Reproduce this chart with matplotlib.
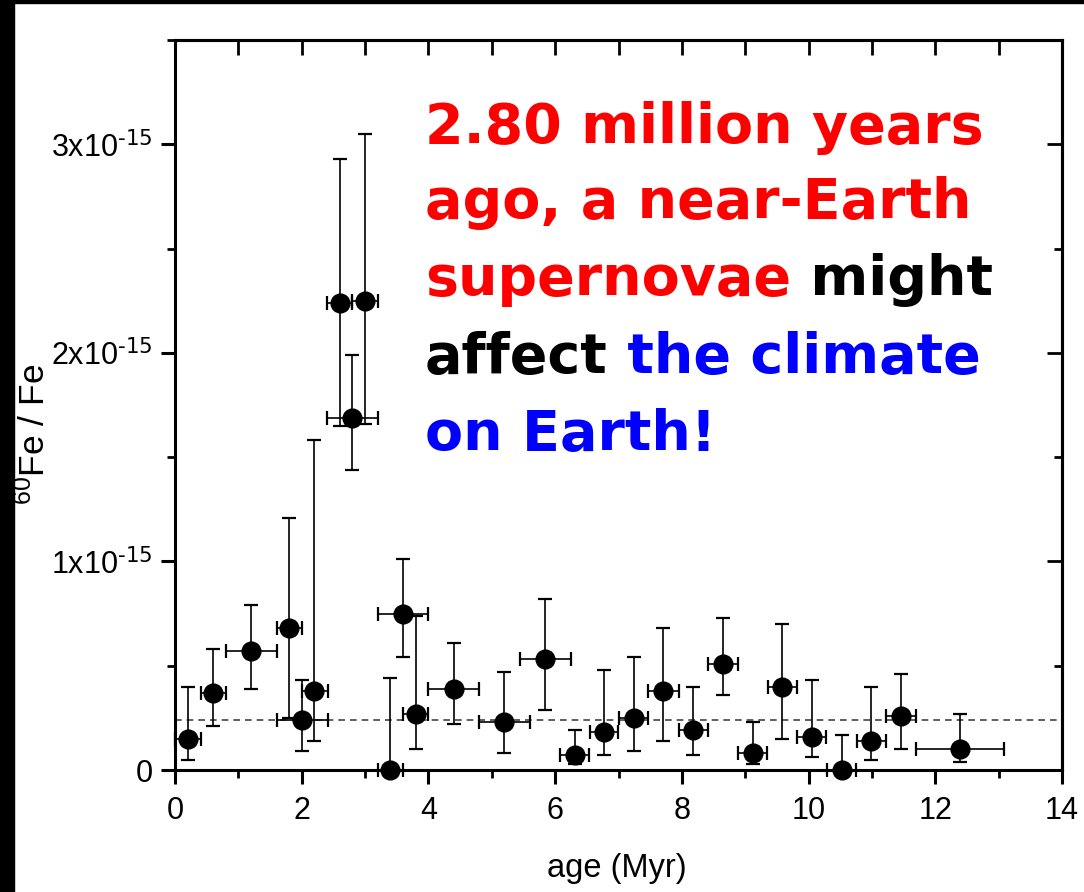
import numpy as np
import matplotlib
matplotlib.use("Agg")
import matplotlib.pyplot as plt
from matplotlib.patches import Rectangle
from matplotlib.ticker import MultipleLocator, FixedLocator

plt.rcParams['font.family'] = ['Liberation Sans', 'DejaVu Sans']
plt.rcParams['mathtext.default'] = 'regular'

# 60Fe/Fe ratio vs sample age, ratio in units of 1e-15
age = np.array([0.2, 0.6, 1.2, 1.8, 2.0, 2.2, 2.6, 3.0, 2.8, 3.4, 3.6, 3.8, 4.4, 5.2,
                5.84, 6.31, 6.77, 7.24, 7.70, 8.17, 8.65, 9.12, 9.58, 10.05, 10.53,
                10.98, 11.46, 12.39])
age_lo = np.array([0.0, 0.41, 0.80, 1.61, 1.61, 2.0, 2.4, 2.8, 2.4, 3.2, 3.2, 3.6, 4.0, 4.8,
                   5.45, 6.08, 6.55, 7.0, 7.47, 7.95, 8.41, 8.89, 9.36, 9.82, 10.29,
                   10.76, 11.22, 11.69])
age_hi = np.array([0.41, 0.80, 1.61, 2.0, 2.41, 2.41, 2.8, 3.2, 3.2, 3.6, 4.0, 4.0, 4.8, 5.6,
                   6.25, 6.53, 6.99, 7.47, 7.95, 8.41, 8.89, 9.34, 9.82, 10.27, 10.75,
                   11.22, 11.69, 13.08])
ratio = np.array([0.15, 0.37, 0.57, 0.68, 0.24, 0.38, 2.24, 2.25, 1.69, 0.0, 0.75, 0.27,
                  0.39, 0.23, 0.53, 0.07, 0.18, 0.25, 0.38, 0.19, 0.51, 0.08, 0.40, 0.16,
                  0.0, 0.14, 0.26, 0.10])
ratio_lo = np.array([0.05, 0.21, 0.39, 0.25, 0.09, 0.14, 1.65, 1.66, 1.44, 0.0, 0.54, 0.10,
                     0.22, 0.08, 0.29, 0.03, 0.07, 0.09, 0.14, 0.07, 0.36, 0.03, 0.15, 0.06,
                     0.0, 0.05, 0.10, 0.04])
ratio_hi = np.array([0.40, 0.58, 0.79, 1.21, 0.43, 1.58, 2.93, 3.05, 1.99, 0.44, 1.01, 0.74,
                     0.61, 0.47, 0.82, 0.19, 0.48, 0.54, 0.68, 0.40, 0.73, 0.23, 0.70, 0.43,
                     0.17, 0.40, 0.46, 0.27])
background = 0.24

ytick_vals = [0, 1, 2, 3]
ytick_labels = ['0', r'1x10$^{\text{-15}}$', r'2x10$^{\text{-15}}$', r'3x10$^{\text{-15}}$']
xtick_vals = [0, 2, 4, 6, 8, 10, 12, 14]

fig = plt.figure(figsize=(10.84, 8.92), dpi=100)
ax = fig.add_axes([175 / 1084, 1 - 770 / 892, (1062 - 175) / 1084, (770 - 40) / 892])

ax.axhline(background, color='#444444', lw=1.2, ls=(0, (4, 3)), zorder=1)
ax.errorbar(age, ratio,
            xerr=[age - age_lo, age_hi - age],
            yerr=[ratio - ratio_lo, ratio_hi - ratio],
            fmt='o', color='black', ms=13.5, ecolor='black', elinewidth=1.2,
            capsize=5, capthick=1.6, zorder=3, clip_on=False)

ax.set_xlim(0, 14)
ax.set_ylim(0, 3.5)
ax.xaxis.set_major_locator(FixedLocator(xtick_vals))
ax.xaxis.set_minor_locator(MultipleLocator(1))
ax.yaxis.set_major_locator(FixedLocator(ytick_vals))
ax.yaxis.set_minor_locator(MultipleLocator(0.5))
ax.set_yticklabels(ytick_labels)
ax.set_xticklabels([str(v) for v in xtick_vals])

for s in ax.spines.values():
    s.set_linewidth(2.2)
ax.tick_params(which='major', direction='out', length=10, width=2.2, labelsize=22)
ax.tick_params(which='minor', direction='out', length=6, width=2.0)
ax.tick_params(axis='x', which='major', pad=9)
ax.tick_params(axis='y', which='major', pad=6)

# inward ticks on the top and right edges
top = ax.secondary_xaxis('top')
top.xaxis.set_major_locator(FixedLocator(xtick_vals))
top.xaxis.set_minor_locator(MultipleLocator(1))
top.tick_params(which='both', direction='in', length=11, width=2.0, labeltop=False)
right = ax.secondary_yaxis('right')
right.yaxis.set_major_locator(FixedLocator(ytick_vals))
right.yaxis.set_minor_locator(MultipleLocator(0.5))
right.tick_params(which='major', direction='in', length=11, width=2.0, labelright=False)
right.tick_params(which='minor', direction='in', length=6, width=2.0, labelright=False)
for sec in (top, right):
    for s in sec.spines.values():
        s.set_linewidth(2.2)

fig.text(34 / 1084, 1 - 434 / 892, '$^{60}$Fe / Fe', rotation=90, fontsize=25.5,
         ha='center', va='center')
fig.text(617 / 1084, 1 - 869 / 892, 'age (Myr)', fontsize=23.5, ha='center', va='center')

# caption in three colours
red, blue = '#ff0000', '#0000ff'
cap_font = dict(family=['DejaVu Sans'], fontweight='bold', fontsize=40)
lines = [
    [('2.80 million years', red)],
    [('ago, a near-Earth', red)],
    [('supernovae', red), (' might', 'black')],
    [('affect', 'black'), (' the climate', blue)],
    [('on Earth!', blue)],
]
baselines = [143, 218, 295, 373, 450]
for parts, yb in zip(lines, baselines):
    prev = None
    for txt, col in parts:
        if prev is None:
            prev = fig.text(425 / 1084, 1 - yb / 892, txt, color=col,
                            va='baseline', ha='left', **cap_font)
        else:
            prev = ax.annotate(txt, xy=(1, 0), xycoords=prev, color=col,
                               va='bottom', ha='left', annotation_clip=False, **cap_font)

# dark frame at the left and top edge
fig.patches.append(Rectangle((0, 0), 14 / 1084, 1, transform=fig.transFigure,
                             color='black', zorder=10))
fig.patches.append(Rectangle((0, 1 - 2.5 / 892), 1, 2.5 / 892, transform=fig.transFigure,
                             color='black', zorder=10))

fig.savefig('out.png', dpi=100)
